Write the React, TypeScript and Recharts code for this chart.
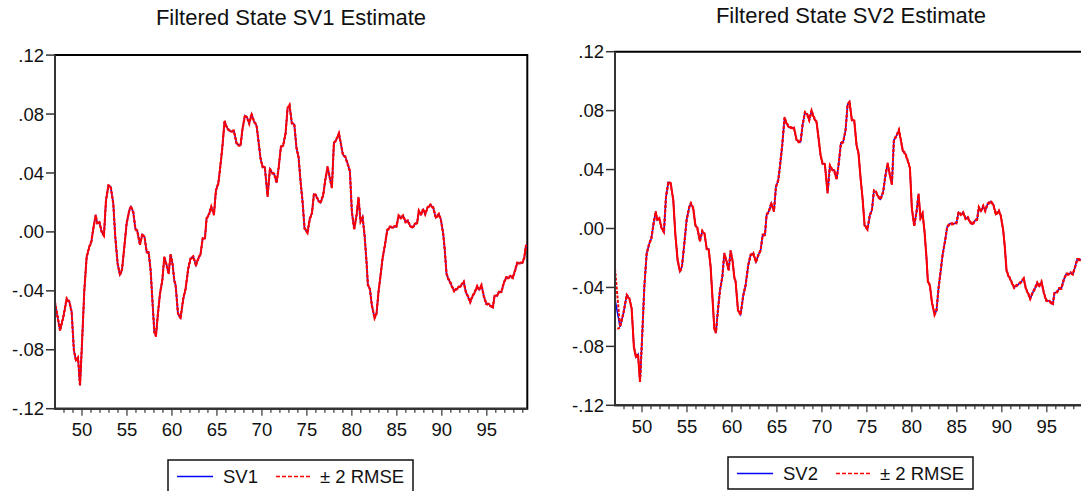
import React from 'react';
import { LineChart, Line, XAxis, YAxis, ReferenceArea } from 'recharts';

const FONT = "'Liberation Sans', Arial, Helvetica, sans-serif";

const obsTimes: number[] = [
  1947.0, 1947.56, 1947.93, 1948.3, 1948.6, 1948.85, 1949.1, 1949.33, 1949.56, 1949.78,
  1950.0, 1950.26, 1950.52, 1950.81, 1951.04, 1951.26, 1951.52, 1951.7, 1951.93, 1952.19,
  1952.44, 1952.67, 1952.93, 1953.19, 1953.48, 1953.7, 1953.96, 1954.22, 1954.44, 1954.67,
  1954.96, 1955.26, 1955.44, 1955.7, 1955.93, 1956.15, 1956.44, 1956.7, 1956.96, 1957.19,
  1957.41, 1957.63, 1957.85, 1958.04, 1958.22, 1958.44, 1958.67, 1958.93, 1959.15, 1959.41,
  1959.63, 1959.85, 1960.07, 1960.26, 1960.41, 1960.67, 1960.96, 1961.26, 1961.52, 1961.81,
  1962.07, 1962.37, 1962.67, 1962.93, 1963.19, 1963.41, 1963.67, 1963.85, 1964.11, 1964.37,
  1964.67, 1964.89, 1965.15, 1965.33, 1965.59, 1965.85, 1966.07, 1966.37, 1966.63, 1966.89,
  1967.19, 1967.41, 1967.63, 1967.85, 1968.11, 1968.37, 1968.59, 1968.85, 1969.11, 1969.41,
  1969.63, 1969.85, 1970.07, 1970.33, 1970.63, 1970.89, 1971.11, 1971.37, 1971.63, 1971.85,
  1972.11, 1972.37, 1972.63, 1972.85, 1973.07, 1973.33, 1973.6, 1973.85, 1974.07, 1974.3,
  1974.52, 1974.74, 1975.07, 1975.33, 1975.56, 1975.78, 1976.0, 1976.26, 1976.52, 1976.81,
  1977.04, 1977.3, 1977.52, 1977.78, 1978.0, 1978.3, 1978.56, 1978.74, 1979.0, 1979.26,
  1979.52, 1979.78, 1980.0, 1980.26, 1980.52, 1980.74, 1980.96, 1981.19, 1981.41, 1981.63,
  1981.78, 1982.0, 1982.22, 1982.52, 1982.74, 1982.96, 1983.19, 1983.41, 1983.67, 1983.93,
  1984.22, 1984.48, 1984.7, 1984.96, 1985.19, 1985.44, 1985.7, 1985.96, 1986.22, 1986.44,
  1986.74, 1987.0, 1987.26, 1987.44, 1987.67, 1987.93, 1988.15, 1988.41, 1988.74, 1989.04,
  1989.33, 1989.67, 1989.89, 1990.15, 1990.33, 1990.52, 1990.7, 1990.96, 1991.15, 1991.37,
  1991.63, 1991.93, 1992.19, 1992.44, 1992.67, 1992.93, 1993.15, 1993.41, 1993.67, 1993.93,
  1994.15, 1994.41, 1994.67, 1994.93, 1995.19, 1995.41, 1995.67, 1995.85, 1996.11, 1996.37,
  1996.63, 1996.89, 1997.15, 1997.41, 1997.63, 1997.89, 1998.15, 1998.37, 1998.67, 1998.93,
  1999.15, 1999.33, 1999.44,
];

// filtered state SV1 estimate
const sv1Values: number[] = [
  -0.048, -0.0668, -0.0577, -0.0453, -0.0476, -0.0543, -0.0804, -0.0872, -0.0854, -0.1042,
  -0.0759, -0.0396, -0.017, -0.0102, -0.0068, 0.0023, 0.0113, 0.0057, 0.0068, 0.0,
  -0.0023, 0.0215, 0.0313, 0.0306, 0.0192, -0.0034, -0.0215, -0.029, -0.026, -0.0125,
  0.0057, 0.0147, 0.017, 0.0136, 0.0023, 0.0005, -0.0086, -0.0018, -0.0038, -0.0136,
  -0.014, -0.026, -0.0487, -0.0679, -0.0707, -0.0555, -0.0419, -0.0328, -0.017, -0.0226,
  -0.0283, -0.0152, -0.022, -0.033, -0.0362, -0.0555, -0.0584, -0.0453, -0.0385, -0.0249,
  -0.0181, -0.0168, -0.0226, -0.0181, -0.0147, -0.0045, -0.0041, 0.0091, 0.0118, 0.017,
  0.0118, 0.0283, 0.0328, 0.0419, 0.0566, 0.0752, 0.0713, 0.0686, 0.0684, 0.0684,
  0.06, 0.0589, 0.0589, 0.0702, 0.0788, 0.0774, 0.0736, 0.0799, 0.0752, 0.072,
  0.0611, 0.0498, 0.0442, 0.0435, 0.0242, 0.0426, 0.0403, 0.0392, 0.0335, 0.043,
  0.0577, 0.0589, 0.0668, 0.0838, 0.086, 0.0736, 0.073, 0.0566, 0.051, 0.034,
  0.0204, 0.0023, -0.0005, 0.0091, 0.0125, 0.0256, 0.0249, 0.0215, 0.0199, 0.0249,
  0.0351, 0.0442, 0.0374, 0.0299, 0.06, 0.063, 0.0668, 0.0611, 0.0525, 0.051,
  0.0464, 0.0412, 0.0136, 0.0018, 0.0113, 0.0233, 0.0072, 0.0102, -0.0023, -0.0204,
  -0.0362, -0.0385, -0.0498, -0.0584, -0.0555, -0.0408, -0.0294, -0.0181, -0.0091, 0.0011,
  0.0032, 0.0032, 0.0034, 0.0038, 0.0109, 0.0095, 0.0109, 0.0068, 0.0075, 0.0045,
  0.0029, 0.0052, 0.0063, 0.0143, 0.0118, 0.0152, 0.012, 0.0165, 0.0183, 0.0165,
  0.0097, 0.012, 0.0084, -0.0011, -0.0125, -0.0283, -0.0317, -0.0346, -0.0374, -0.0401,
  -0.0387, -0.0374, -0.036, -0.034, -0.0408, -0.0442, -0.0476, -0.0437, -0.0408, -0.0369,
  -0.0392, -0.0362, -0.0437, -0.0487, -0.0491, -0.05, -0.0514, -0.0437, -0.0433, -0.0408,
  -0.0405, -0.0346, -0.031, -0.031, -0.0301, -0.031, -0.026, -0.0211, -0.0211, -0.0211,
  -0.0181, -0.0102, -0.0086,
];

// filtered state SV2 estimate (reads the same as SV1 in the picture)
const sv2Values: number[] = [...sv1Values];

// RMSE of the filtered states: wide only at the first observation of SV2
const sv1RmseStart: number[] = [0.0002];
const sv2RmseStart: number[] = [0.0104];
const rmseFloor = 0.0002;

const yTicks: number[] = [-0.12, -0.08, -0.04, 0, 0.04, 0.08, 0.12];
const yTickLabels: string[] = ['-.12', '-.08', '-.04', '.00', '.04', '.08', '.12'];

const xYearTicks: number[] = [
  1948, 1949, 1950, 1951, 1952, 1953, 1954, 1955, 1956, 1957, 1958, 1959, 1960,
  1961, 1962, 1963, 1964, 1965, 1966, 1967, 1968, 1969, 1970, 1971, 1972, 1973,
  1974, 1975, 1976, 1977, 1978, 1979, 1980, 1981, 1982, 1983, 1984, 1985, 1986,
  1987, 1988, 1989, 1990, 1991, 1992, 1993, 1994, 1995, 1996, 1997, 1998, 1999,
];
const xMajorYears: number[] = [1950, 1955, 1960, 1965, 1970, 1975, 1980, 1985, 1990, 1995];
const xMajorLabels: string[] = ['50', '55', '60', '65', '70', '75', '80', '85', '90', '95'];

const X_DOMAIN: [number, number] = [1947, 1999.5];
const Y_DOMAIN: [number, number] = [-0.12, 0.12];

type Row = { t: number; sv: number; up: number; lo: number };

function buildRows(values: number[], rmseStart: number[]): Row[] {
  return obsTimes.map((t, i) => {
    const r = i < rmseStart.length ? rmseStart[i] : rmseFloor;
    return { t, sv: values[i], up: values[i] + 2 * r, lo: values[i] - 2 * r };
  });
}

const rows1 = buildRows(sv1Values, sv1RmseStart);
const rows2 = buildRows(sv2Values, sv2RmseStart);

const XTick = (props: any) => {
  const { x, y, payload } = props;
  const idx = xMajorYears.indexOf(payload.value);
  const major = idx >= 0;
  return (
    <g>
      <line x1={x} x2={x} y1={y} y2={y + (major ? 7 : 4)} stroke="#333" strokeWidth={1.2} />
      {major && (
        <text x={x} y={y + 27.5} textAnchor="middle" fontSize={18.5} fontFamily={FONT} fill="#111">
          {xMajorLabels[idx]}
        </text>
      )}
    </g>
  );
};

function Panel({ rows, left, marginTop }: { rows: Row[]; left: number; marginTop: number }) {
  const plotH = 353.6;
  const xAxisH = 40;
  const H = 491;
  return (
    <div style={{ position: 'absolute', left, top: 0 }}>
      <LineChart
        width={540}
        height={H}
        data={rows}
        margin={{ top: marginTop, right: 12.7, bottom: H - marginTop - plotH - xAxisH, left: 0 }}
      >
        <XAxis
          dataKey="t"
          type="number"
          domain={X_DOMAIN}
          ticks={xYearTicks}
          interval={0}
          allowDataOverflow
          height={xAxisH}
          tickSize={0}
          tickMargin={0}
          tickLine={false}
          tick={<XTick />}
          axisLine={{ stroke: '#333', strokeWidth: 2 }}
        />
        <YAxis
          type="number"
          domain={Y_DOMAIN}
          ticks={yTicks}
          interval={0}
          allowDataOverflow
          width={55}
          tickSize={9}
          tickMargin={2}
          tickFormatter={(v: number) => yTickLabels[yTicks.indexOf(v)] ?? ''}
          tick={{ fontSize: 18.5, fontFamily: FONT, fill: '#111' }}
          tickLine={{ stroke: '#333', strokeWidth: 1.5 }}
          axisLine={{ stroke: '#333', strokeWidth: 2 }}
        />
        <Line
          type="linear"
          dataKey="sv"
          stroke="#0000FF"
          strokeWidth={1.5}
          dot={false}
          activeDot={false}
          isAnimationActive={false}
        />
        <Line
          type="linear"
          dataKey="up"
          stroke="#FF0000"
          strokeWidth={2}
          strokeDasharray="3 1.5"
          dot={false}
          activeDot={false}
          isAnimationActive={false}
        />
        <Line
          type="linear"
          dataKey="lo"
          stroke="#FF0000"
          strokeWidth={2}
          strokeDasharray="3 1.5"
          strokeDashoffset={2}
          dot={false}
          activeDot={false}
          isAnimationActive={false}
        />
        <ReferenceArea
          x1={X_DOMAIN[0]}
          x2={X_DOMAIN[1]}
          y1={Y_DOMAIN[0]}
          y2={Y_DOMAIN[1]}
          fill="none"
          fillOpacity={0}
          stroke="#000"
          strokeWidth={2}
          ifOverflow="visible"
        />
      </LineChart>
    </div>
  );
}

function LegendBox({ x, y, name }: { x: number; y: number; name: string }) {
  const cy = y + 16.5;
  return (
    <g fontFamily={FONT} fontSize={18.5} fill="#111">
      <rect x={x} y={y} width={245} height={32} fill="#fff" stroke="#111" strokeWidth={1.5} />
      <line x1={x + 9} x2={x + 45} y1={cy} y2={cy} stroke="#0000FF" strokeWidth={1.3} />
      <text x={x + 55} y={cy + 6.6}>{name}</text>
      <line x1={x + 108} x2={x + 144} y1={cy} y2={cy} stroke="#FF0000" strokeWidth={1.3} strokeDasharray="4 2" />
      <text x={x + 152} y={cy + 6.6}>± 2 RMSE</text>
    </g>
  );
}

export default function App() {
  return (
    <div
      style={{
        position: 'fixed',
        left: 0,
        top: 0,
        width: 1081,
        height: 491,
        overflow: 'hidden',
        background: '#fff',
      }}
    >
      <Panel rows={rows1} left={0} marginTop={55.1} />
      <Panel rows={rows2} left={560} marginTop={51.7} />
      <svg
        width={1081}
        height={491}
        style={{ position: 'absolute', left: 0, top: 0, pointerEvents: 'none' }}
      >
        <text x={291} y={25} textAnchor="middle" fontFamily={FONT} fontSize={22} fill="#111">
          Filtered State SV1 Estimate
        </text>
        <text x={851} y={22.7} textAnchor="middle" fontFamily={FONT} fontSize={22} fill="#111">
          Filtered State SV2 Estimate
        </text>
        <LegendBox x={168} y={460} name="SV1" />
        <LegendBox x={728} y={457} name="SV2" />
      </svg>
    </div>
  );
}
